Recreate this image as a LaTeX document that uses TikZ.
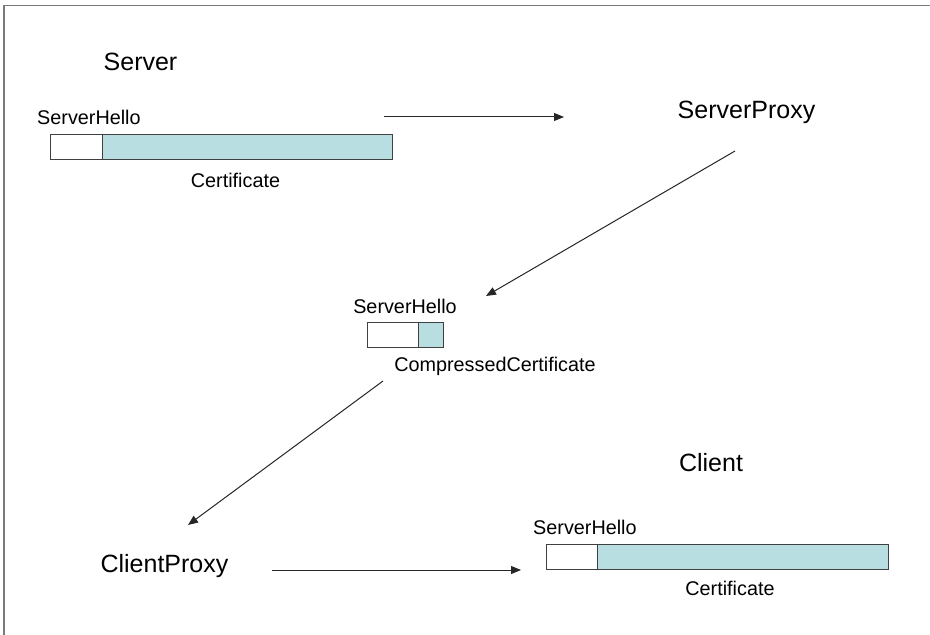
\documentclass[tikz,border=0pt]{standalone}
\usepackage{fontspec}
\setmainfont{Liberation Sans}
\usetikzlibrary{arrows.meta}
\definecolor{certblue}{HTML}{B9DEE1}
\definecolor{framegray}{HTML}{7A7A7A}
\tikzset{
  big/.style={inner sep=0pt, font=\fontsize{25bp}{28bp}\selectfont},
  small/.style={inner sep=0pt, font=\fontsize{19.8bp}{22bp}\selectfont},
  hellobox/.style={draw=black!75, line width=1bp, fill=white, inner sep=0pt, minimum height=25bp},
  certbox/.style={draw=black!75, line width=1bp, fill=certblue, inner sep=0pt, minimum height=25bp},
  arr/.style={draw=black!85, line width=1bp, -{Triangle[length=10bp,width=8bp]}}
}
\begin{document}
\begin{tikzpicture}[x=1bp,y=-1bp]
\useasboundingbox (0,0) rectangle (930,635);
\fill[white] (0,0) rectangle (930,635);
\draw[framegray, line width=1.5bp] (4,635) -- (4,5.5) -- (930,5.5);
% top
\node[big] (server) at (140.5,62) {Server};
\node[small, anchor=west] (hello1) at (37,117) {ServerHello};
\node[hellobox, minimum width=52bp, anchor=north west] (hb1) at (50,134) {};
\node[certbox, minimum width=290bp, anchor=north west] (cb1) at (102,134) {};
\node[small] (cert1) at (235.5,180) {Certificate};
\node[big] (sproxy) at (746.5,112) {ServerProxy};
% middle
\node[small] (hello2) at (405,306) {ServerHello};
\node[hellobox, minimum width=51bp, anchor=north west] (hb2) at (367,322) {};
\node[certbox, minimum width=25bp, anchor=north west] (cb2) at (418,322) {};
\node[small] (cert2) at (495,366) {CompressedCertificate};
% bottom
\node[big] (client) at (711,463) {Client};
\node[small, anchor=west] (hello3) at (533,527) {ServerHello};
\node[hellobox, minimum width=51bp, anchor=north west] (hb3) at (546,544) {};
\node[certbox, minimum width=291bp, anchor=north west] (cb3) at (597,544) {};
\node[small] (cert3) at (730,588) {Certificate};
\node[big] (cproxy) at (164.5,566) {ClientProxy};
% arrow ends
\coordinate (a1s) at (384,117);
\coordinate (a1e) at (564,117);
\coordinate (a2s) at (735,151);
\coordinate (a2e) at (486,296);
\coordinate (a3s) at (383,381);
\coordinate (a3e) at (188,525);
\coordinate (a4s) at (272,570);
\coordinate (a4e) at (521,570);
\draw[arr] (a1s) -- (a1e);
\draw[arr] (a2s) -- (a2e);
\draw[arr] (a3s) -- (a3e);
\draw[arr] (a4s) -- (a4e);
\end{tikzpicture}
\end{document}
